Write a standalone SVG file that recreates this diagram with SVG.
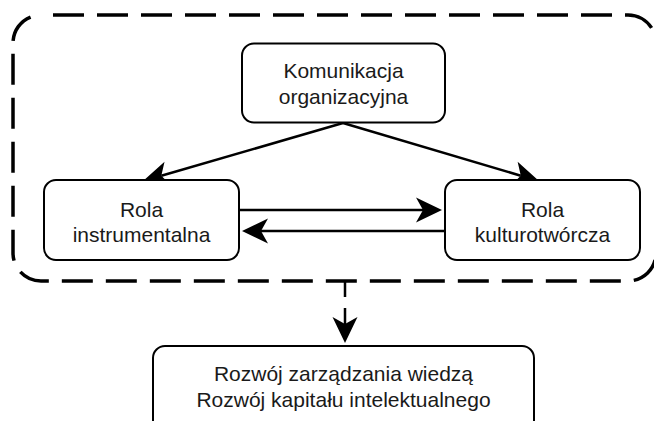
<svg xmlns="http://www.w3.org/2000/svg" width="654" height="421" viewBox="0 0 654 421">
  <style>
    .node rect { fill: #ffffff; stroke: #000000; stroke-width: 2; }
    .node text { font-family: "Liberation Sans", Arial, sans-serif; font-size: 21px; fill: #1a1a1a; text-anchor: middle; }
    .conn { fill: none; stroke: #000000; stroke-width: 2.5; marker-end: url(#arrow); }
  </style>
  <defs>
    <marker id="arrow" markerUnits="userSpaceOnUse" viewBox="-8 -14 28 28" refX="0" refY="0" markerWidth="28" markerHeight="28" orient="auto" overflow="visible">
      <path d="M19,0 L-7,-12.5 L0,0 L-7,12.5 Z" fill="#000000" stroke="none"/>
    </marker>
  </defs>
  <rect x="13" y="15" width="643" height="266" rx="28" ry="28" fill="none" stroke="#000000" stroke-width="3.5" stroke-dasharray="31 13" stroke-dashoffset="32"/>
  <g id="connectors">
    <line class="conn" x1="343" y1="123" x2="161.3" y2="175.8"/>
    <line class="conn" x1="343" y1="123" x2="520.8" y2="175.7"/>
    <line class="conn" x1="240" y1="210" x2="423" y2="210"/>
    <line class="conn" x1="445" y1="231" x2="261" y2="231"/>
    <line class="conn" x1="345" y1="281" x2="345" y2="324" stroke-width="3.5" stroke-dasharray="16 11"/>
  </g>
  <g id="n-komunikacja" class="node">
    <rect x="242" y="43.5" width="203" height="79" rx="12" ry="12"/>
    <text x="343.5" y="78">Komunikacja</text>
    <text x="343.5" y="104">organizacyjna</text>
  </g>
  <g id="n-instrumentalna" class="node">
    <rect x="44" y="180" width="195" height="80" rx="12" ry="12"/>
    <text x="141.5" y="216.5">Rola</text>
    <text x="141.5" y="242">instrumentalna</text>
  </g>
  <g id="n-kulturotworcza" class="node">
    <rect x="445" y="180" width="195" height="80" rx="12" ry="12"/>
    <text x="542.5" y="216.5">Rola</text>
    <text x="542.5" y="242">kulturotwórcza</text>
  </g>
  <g id="n-rozwoj" class="node">
    <rect x="153" y="346" width="381" height="90" rx="12" ry="12"/>
    <text x="343.5" y="381">Rozwój zarządzania wiedzą</text>
    <text x="343.5" y="406.5">Rozwój kapitału intelektualnego</text>
  </g>
</svg>
